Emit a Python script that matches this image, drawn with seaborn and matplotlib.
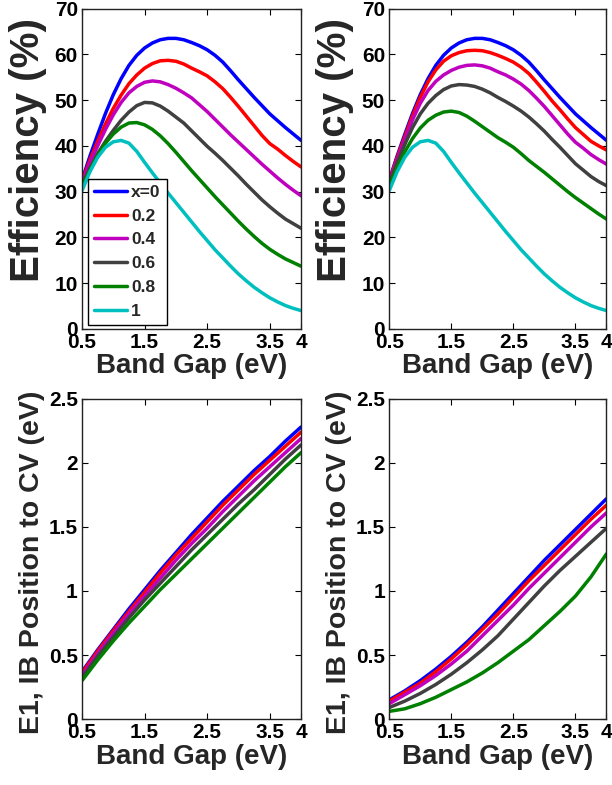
import matplotlib
matplotlib.use("Agg")
import matplotlib.pyplot as plt
import pandas as pd
import seaborn as sns

# Band gap grids (eV)
gap_fine = [0.5, 0.625, 0.75, 0.875, 1.0, 1.125, 1.25, 1.375, 1.5, 1.625, 1.75, 1.875, 2.0, 2.125,
            2.25, 2.375, 2.5, 2.625, 2.75, 2.875, 3.0, 3.125, 3.25, 3.375, 3.5, 3.625, 3.75, 3.875, 4.0]
gap_coarse = [0.5, 0.75, 1.0, 1.25, 1.5, 1.75, 2.0, 2.25, 2.5, 2.75, 3.0, 3.25, 3.5, 3.75, 4.0]

x_labels = ["x=0", "0.2", "0.4", "0.6", "0.8", "1"]
line_colors = ["#0000ff", "#ff0000", "#bf00bf", "#404040", "#008000", "#00bfbf"]

# Efficiency (%) - left panel
eff_left = {
    "x=0": [32.5, 37.7, 42.5, 47.1, 51.2, 54.7, 57.6, 59.8, 61.4, 62.5, 63.2, 63.5, 63.5, 63.2, 62.6,
            61.9, 61.0, 59.8, 58.3, 56.4, 54.4, 52.5, 50.6, 48.8, 47.0, 45.5, 44.0, 42.6, 41.2],
    "0.2": [32.3, 36.9, 41.0, 44.8, 48.2, 51.1, 53.6, 55.5, 57.0, 58.0, 58.6, 58.7, 58.5, 57.9, 57.0,
            56.2, 55.3, 54.0, 52.5, 50.6, 48.6, 46.5, 44.4, 42.3, 40.5, 39.3, 37.9, 36.6, 35.4],
    "0.4": [32.0, 36.2, 40.0, 43.6, 46.8, 49.5, 51.6, 53.0, 53.9, 54.2, 54.0, 53.4, 52.6, 51.6, 50.5,
            49.0, 47.5, 45.8, 44.1, 42.4, 40.8, 39.2, 37.6, 36.0, 34.5, 33.0, 31.6, 30.3, 29.1],
    "0.6": [31.5, 35.0, 38.3, 41.0, 43.4, 45.6, 47.4, 48.8, 49.5, 49.4, 48.7, 47.6, 46.3, 45.0, 43.3,
            41.6, 39.9, 38.4, 36.8, 35.1, 33.4, 31.6, 29.9, 28.2, 26.7, 25.3, 24.0, 23.0, 22.0],
    "0.8": [31.0, 34.8, 37.9, 40.6, 42.6, 44.1, 45.0, 45.1, 44.6, 43.6, 42.2, 40.5, 38.6, 36.6, 34.6,
            32.7, 30.8, 28.9, 27.1, 25.3, 23.5, 21.8, 20.2, 18.7, 17.4, 16.3, 15.3, 14.5, 13.7],
    "1": [30.2, 34.3, 37.5, 39.7, 40.9, 41.2, 40.6, 38.8, 36.4, 34.1, 31.9, 29.7, 27.6, 25.5, 23.4,
          21.3, 19.3, 17.3, 15.5, 13.7, 12.0, 10.5, 9.1, 7.9, 6.8, 5.9, 5.1, 4.5, 4.0],
}

# Efficiency (%) - right panel
eff_right = {
    "x=0": [32.5, 37.7, 42.5, 47.1, 51.2, 54.7, 57.6, 59.8, 61.4, 62.5, 63.2, 63.5, 63.5, 63.2, 62.6,
            61.9, 61.0, 59.8, 58.3, 56.4, 54.4, 52.5, 50.6, 48.8, 47.0, 45.5, 44.0, 42.6, 41.2],
    "0.2": [32.3, 37.4, 42.0, 46.6, 50.6, 54.0, 56.6, 58.5, 59.7, 60.4, 60.8, 60.9, 60.8, 60.4, 59.8,
            59.1, 58.3, 57.2, 55.8, 53.9, 51.9, 49.8, 47.9, 45.9, 44.0, 42.5, 41.0, 40.0, 39.1],
    "0.4": [32.0, 36.9, 41.3, 45.7, 49.3, 52.1, 54.1, 55.5, 56.5, 57.2, 57.6, 57.7, 57.5, 57.0, 56.2,
            55.5, 54.6, 53.5, 52.1, 50.4, 48.6, 46.6, 44.6, 42.6, 40.8, 39.5, 38.1, 37.0, 36.0],
    "0.6": [31.7, 36.3, 40.3, 44.0, 47.0, 49.3, 51.0, 52.3, 53.1, 53.4, 53.3, 53.0, 52.4, 51.6, 50.6,
            49.7, 48.7, 47.6, 46.3, 44.8, 43.2, 41.4, 39.7, 37.9, 36.1, 34.7, 33.3, 32.2, 31.3],
    "0.8": [31.2, 35.2, 38.7, 41.6, 43.9, 45.6, 46.7, 47.4, 47.6, 47.3, 46.5, 45.4, 44.2, 43.0, 41.8,
            40.8, 39.7, 38.3, 36.8, 35.5, 34.2, 32.8, 31.4, 30.0, 28.7, 27.5, 26.3, 25.1, 24.0],
    "1": [30.2, 34.3, 37.5, 39.7, 40.9, 41.2, 40.6, 38.8, 36.4, 34.1, 31.9, 29.7, 27.6, 25.5, 23.4,
          21.3, 19.3, 17.3, 15.5, 13.7, 12.0, 10.5, 9.1, 7.9, 6.8, 5.9, 5.1, 4.5, 4.0],
}

# E1, IB position to CV (eV) - left panel
pos_left = {
    "x=0": [0.37, 0.54, 0.70, 0.86, 1.01, 1.16, 1.30, 1.44, 1.57, 1.70, 1.82, 1.94, 2.05, 2.17, 2.28],
    "0.2": [0.36, 0.53, 0.69, 0.84, 0.99, 1.14, 1.28, 1.41, 1.54, 1.67, 1.79, 1.91, 2.02, 2.13, 2.24],
    "0.4": [0.34, 0.51, 0.67, 0.82, 0.96, 1.10, 1.24, 1.37, 1.49, 1.62, 1.74, 1.86, 1.97, 2.08, 2.19],
    "0.6": [0.32, 0.49, 0.64, 0.79, 0.93, 1.06, 1.19, 1.32, 1.44, 1.56, 1.68, 1.79, 1.91, 2.03, 2.14],
    "0.8": [0.30, 0.46, 0.61, 0.75, 0.88, 1.01, 1.13, 1.25, 1.37, 1.49, 1.61, 1.73, 1.85, 1.97, 2.08],
}

# E1, IB position to CV (eV) - right panel
pos_right = {
    "x=0": [0.15, 0.22, 0.30, 0.39, 0.49, 0.60, 0.72, 0.85, 0.98, 1.11, 1.24, 1.36, 1.48, 1.60, 1.72],
    "0.2": [0.14, 0.21, 0.28, 0.37, 0.47, 0.58, 0.70, 0.82, 0.95, 1.08, 1.20, 1.32, 1.44, 1.56, 1.67],
    "0.4": [0.12, 0.19, 0.26, 0.34, 0.43, 0.53, 0.65, 0.77, 0.89, 1.02, 1.14, 1.26, 1.38, 1.50, 1.61],
    "0.6": [0.09, 0.14, 0.20, 0.27, 0.35, 0.44, 0.54, 0.65, 0.78, 0.91, 1.04, 1.16, 1.27, 1.38, 1.49],
    "0.8": [0.06, 0.08, 0.12, 0.17, 0.23, 0.29, 0.36, 0.44, 0.53, 0.62, 0.73, 0.84, 0.96, 1.11, 1.29],
}

x_ticks = [0.5, 1.5, 2.5, 3.5, 4]
x_ticklabels = ["0.5", "1.5", "2.5", "3.5", "4"]
eff_ticks = [0, 10, 20, 30, 40, 50, 60, 70]
pos_ticks = [0, 0.5, 1, 1.5, 2, 2.5]
pos_ticklabels = ["0", "0.5", "1", "1.5", "2", "2.5"]


def to_long(curves, grid):
    rows = []
    for name, vals in curves.items():
        for bg, v in zip(grid, vals):
            rows.append({"band_gap": bg, "value": v, "x": name})
    return pd.DataFrame(rows)


sns.set_style("ticks")
plt.rcParams["font.family"] = ["Liberation Sans", "DejaVu Sans"]
plt.rcParams["font.weight"] = "bold"
plt.rcParams["axes.labelweight"] = "bold"
plt.rcParams["axes.linewidth"] = 1.0
plt.rcParams["axes.edgecolor"] = "#222222"

palette = dict(zip(x_labels, line_colors))

fig = plt.figure(figsize=(6.12, 7.85), dpi=100)
ax_tl = fig.add_axes([0.134, 0.581, 0.358, 0.408])
ax_tr = fig.add_axes([0.636, 0.581, 0.355, 0.408])
ax_bl = fig.add_axes([0.134, 0.084, 0.358, 0.408])
ax_br = fig.add_axes([0.636, 0.084, 0.355, 0.408])

panels = [
    (ax_tl, eff_left, gap_fine, True, "eff"),
    (ax_tr, eff_right, gap_fine, False, "eff"),
    (ax_bl, pos_left, gap_coarse, False, "pos"),
    (ax_br, pos_right, gap_coarse, False, "pos"),
]

for ax, curves, grid, show_legend, kind in panels:
    df = to_long(curves, grid)
    order = [n for n in x_labels if n in curves]
    sns.lineplot(data=df, x="band_gap", y="value", hue="x", hue_order=order,
                 palette=palette, linewidth=2.5, legend=show_legend, ax=ax)
    ax.set_xlim(0.5, 4)
    ax.set_xticks(x_ticks)
    ax.set_xticklabels(x_ticklabels)
    if kind == "eff":
        ax.set_ylim(0, 70)
        ax.set_yticks(eff_ticks)
        ax.set_yticklabels([str(t) for t in eff_ticks])
        ax.set_ylabel("Efficiency (%)", fontsize=29, fontweight="bold")
        ax.yaxis.set_label_coords(-0.16, 0.56)
    else:
        ax.set_ylim(0, 2.5)
        ax.set_yticks(pos_ticks)
        ax.set_yticklabels(pos_ticklabels)
        ax.set_ylabel("E1, IB Position to CV (eV)", fontsize=20.5, fontweight="bold")
        ax.yaxis.set_label_coords(-0.17, 0.49)
    ax.tick_params(direction="in", length=4, width=0.8, top=True, right=True,
                   labelsize=15, pad=3, colors="black")
    for lbl in ax.get_xticklabels() + ax.get_yticklabels():
        lbl.set_fontweight("bold")
    ax.set_xlabel("Band Gap (eV)", fontsize=20, fontweight="bold", labelpad=1)
    for s in ax.spines.values():
        s.set_visible(True)

sns.move_legend(ax_tl, "lower left", bbox_to_anchor=(0.027, 0.012), title=None,
                frameon=True, fancybox=False, framealpha=1, edgecolor="black",
                prop={"size": 12.5, "weight": "bold"}, handlelength=1.9,
                handletextpad=0.25, labelspacing=0.5, borderpad=0.35,
                borderaxespad=0)
ax_tl.get_legend().get_frame().set_linewidth(1.0)

fig.savefig("out.png", dpi=100)
